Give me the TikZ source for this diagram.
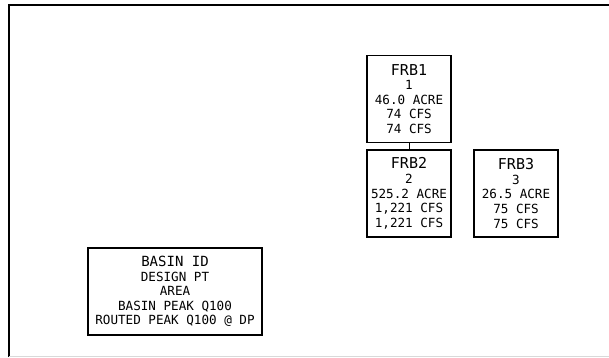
\documentclass[tikz,border=0pt]{standalone}
\usepackage{fontspec}
\newfontfamily\cadfont{DejaVu Sans Mono}
\usetikzlibrary{positioning}

\begin{document}
\begin{tikzpicture}[x=1pt, y=-1pt,
    basin/.style={draw, line width=1.2pt, inner sep=0pt, align=center,
        minimum height=87pt, font=\cadfont\fontsize{12.6}{14.6}\selectfont},
    frb/.style={basin, minimum width=84pt},
    legend/.style={basin, minimum width=174pt}]
    \useasboundingbox (0,0) rectangle (609,357);

    % sheet border
    \coordinate (TL) at (8.5,5);
    \coordinate (TR) at (609,5);
    \coordinate (BL) at (8.5,357);
    \draw[line width=2pt] (BL) -- (TL) -- (TR);
    \draw[gray!30, line width=1pt] (8.5,356) -- (609,356);

    % basins
    \node[frb] (frb1) at (409,99)
        {{\fontsize{15}{15}\selectfont FRB1}\\1\\46.0 ACRE\\74 CFS\\74 CFS};
    \node[frb] (frb2) at (409,193.5)
        {{\fontsize{15}{15}\selectfont FRB2}\\2\\525.2 ACRE\\1,221 CFS\\1,221 CFS};
    \node[frb] (frb3) at (516,193.5)
        {{\fontsize{15}{15}\selectfont FRB3}\\3\\26.5 ACRE\\75 CFS\\75 CFS};

    \draw[line width=0.8pt] (frb1.south) -- (frb2.north);

    % legend
    \node[legend] (key) at (175,291.5)
        {{\fontsize{14}{14}\selectfont BASIN ID}\\DESIGN PT\\AREA\\BASIN PEAK Q100\\ROUTED PEAK Q100 @ DP};
\end{tikzpicture}
\end{document}
